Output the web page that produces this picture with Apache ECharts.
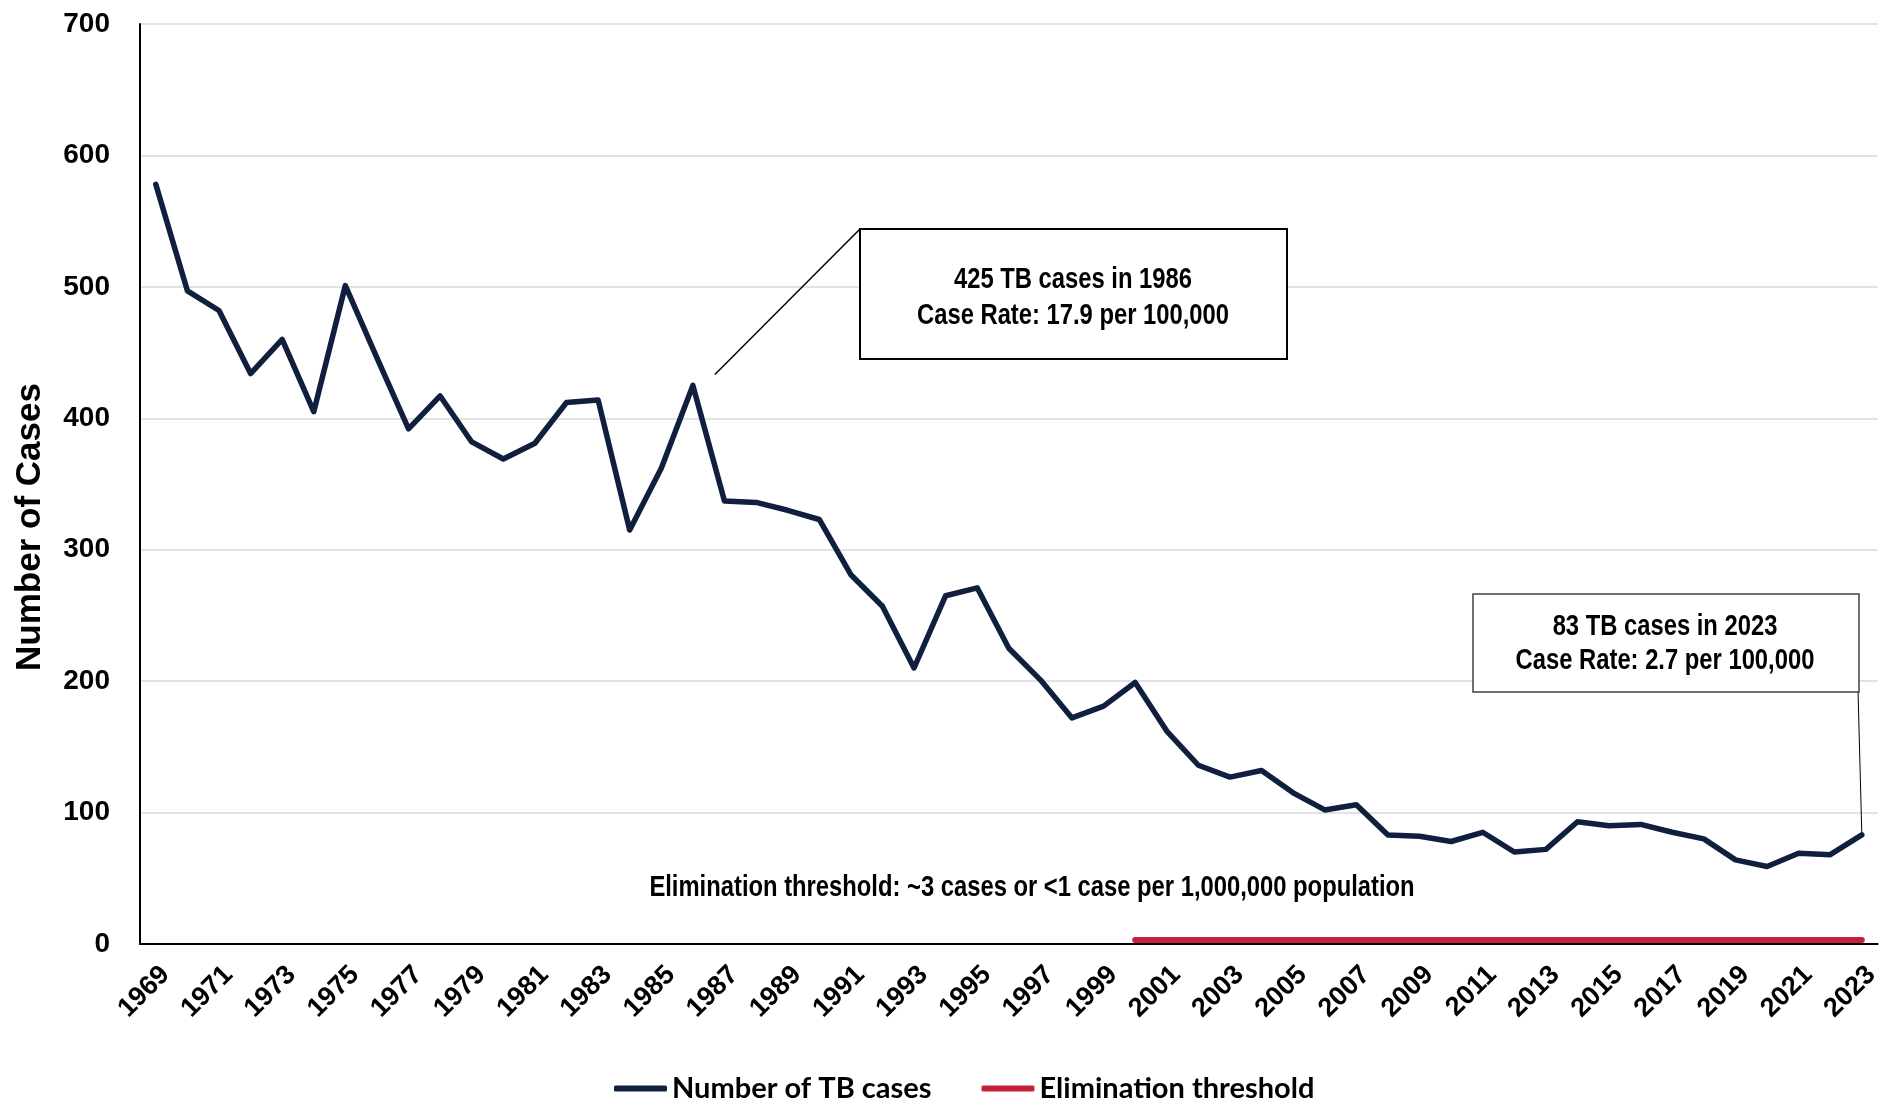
<!DOCTYPE html>
<html><head><meta charset="utf-8">
<script src="https://cdn.jsdelivr.net/npm/echarts@6/dist/echarts.min.js"></script>
<style>html,body{margin:0;padding:0;background:#fff}#c{width:1883px;height:1102px}</style>
</head><body><div id="c"></div>
<script>
const years = ['1969','1970','1971','1972','1973','1974','1975','1976','1977','1978','1979','1980','1981','1982','1983','1984','1985','1986','1987','1988','1989','1990','1991','1992','1993','1994','1995','1996','1997','1998','1999','2000','2001','2002','2003','2004','2005','2006','2007','2008','2009','2010','2011','2012','2013','2014','2015','2016','2017','2018','2019','2020','2021','2022','2023'];
const tbCases = [578,497,482,434,460,405,501,446,392,417,382,369,381,412,414,315,362,425,337,336,330,323,281,257,210,265,271,225,201,172,181,199,162,136,127,132,115,102,106,83,82,78,85,70,72,93,90,91,85,80,64,59,69,68,83];
const threshold = [null,null,null,null,null,null,null,null,null,null,null,null,null,null,null,null,null,null,null,null,null,null,null,null,null,null,null,null,null,null,null,3,3,3,3,3,3,3,3,3,3,3,3,3,3,3,3,3,3,3,3,3,3,3,3];
const yTicks = {min: 0, max: 700, interval: 100};
const seriesNames = ['Number of TB cases', 'Elimination threshold'];
const note1986 = ['425 TB cases in 1986', 'Case Rate: 17.9 per 100,000'];
const note2023 = ['83 TB cases in 2023', 'Case Rate: 2.7 per 100,000'];
const noteThreshold = 'Elimination threshold: ~3 cases or <1 case per 1,000,000 population';

const SANS = '"Liberation Sans", Arial, sans-serif';
const NAVY = '#111f3f';
const RED = '#c8203a';

const chart = echarts.init(document.getElementById('c'));
chart.setOption({
  animation: false,
  backgroundColor: '#fff',
  grid: {left: 140, right: 2, top: 24, bottom: 158, containLabel: false},
  legend: {
    left: 609, top: 1069, itemWidth: 53, itemHeight: 6, itemGap: 50, icon: 'roundRect',
    textStyle: {fontFamily: 'Lato', fontWeight: 'bold', fontSize: 29, color: '#000'},
    data: seriesNames
  },
  xAxis: {
    type: 'category', data: years, boundaryGap: true,
    axisLine: {lineStyle: {color: '#000', width: 2}},
    axisTick: {alignWithLabel: true, interval: 0, length: 7, lineStyle: {color: '#000', width: 2}},
    axisLabel: {interval: 1, rotate: 45, margin: 17, verticalAlign: 'top', align: 'right',
      fontFamily: SANS, fontWeight: 'bold', fontSize: 27, color: '#000'}
  },
  yAxis: {
    type: 'value', min: yTicks.min, max: yTicks.max, interval: yTicks.interval,
    axisLine: {show: true, lineStyle: {color: '#000', width: 2}},
    axisTick: {show: false},
    splitLine: {lineStyle: {color: '#d9d9d9', width: 1.5}},
    axisLabel: {margin: 30, fontFamily: SANS, fontWeight: 'bold', fontSize: 28, color: '#000'}
  },
  series: [
    {name: seriesNames[0], type: 'line', data: tbCases, symbol: 'none', z: 3,
     itemStyle: {color: NAVY}, lineStyle: {color: NAVY, width: 5.5, cap: 'round', join: 'round'}},
    {name: seriesNames[1], type: 'line', data: threshold, symbol: 'none', z: 2,
     itemStyle: {color: RED}, lineStyle: {color: RED, width: 6, cap: 'round', join: 'round'}}
  ]
});

const p1986 = chart.convertToPixel({seriesIndex: 0}, ['1986', 425]);
const p2023 = chart.convertToPixel({seriesIndex: 0}, ['2023', 83]);
const textFont = 'bold 29px ' + SANS;
const NARROW_SCALE = 0.82;

chart.setOption({
  graphic: [
    {type: 'text', x: 30, y: 527, rotation: Math.PI / 2,
     style: {text: 'Number of Cases', font: 'bold 35px ' + SANS, fill: '#000', align: 'center', verticalAlign: 'middle'}},
    {type: 'line', shape: {x1: 860, y1: 229, x2: p1986[0] + 22, y2: p1986[1] - 11}, style: {stroke: '#000', lineWidth: 1.5}},
    {type: 'rect', shape: {x: 860, y: 229, width: 427, height: 130}, style: {fill: '#fff', stroke: '#000', lineWidth: 2}},
    {type: 'text', x: 1073, y: 298, scaleX: NARROW_SCALE,
     style: {text: note1986.join('\n'), font: textFont, lineHeight: 36, fill: '#000', align: 'center', verticalAlign: 'middle'}},
    {type: 'line', shape: {x1: 1858, y1: 690, x2: p2023[0], y2: p2023[1]}, style: {stroke: '#000', lineWidth: 1}},
    {type: 'rect', shape: {x: 1473, y: 594, width: 386, height: 98}, style: {fill: '#fff', stroke: '#404040', lineWidth: 1.5}},
    {type: 'text', x: 1665, y: 644, scaleX: NARROW_SCALE,
     style: {text: note2023.join('\n'), font: textFont, lineHeight: 34, fill: '#000', align: 'center', verticalAlign: 'middle'}},
    {type: 'text', x: 1032, y: 888, scaleX: NARROW_SCALE,
     style: {text: noteThreshold, font: textFont, fill: '#000', align: 'center', verticalAlign: 'middle'}}
  ]
});
</script>
</body></html>
